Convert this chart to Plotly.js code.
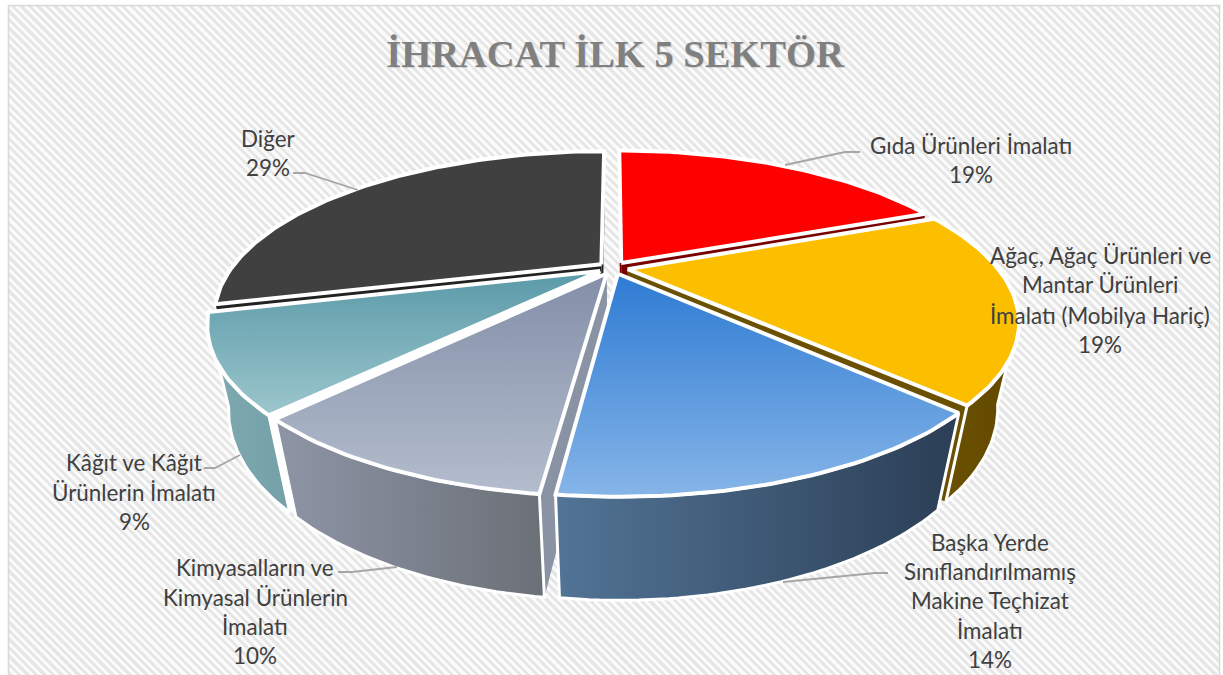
<!DOCTYPE html>
<html><head><meta charset="utf-8">
<script src="https://cdn.plot.ly/plotly-3.0.1.min.js"></script>
<style>
html,body{margin:0;padding:0;background:#fff;overflow:hidden}
#hatch{position:absolute;left:9px;top:6px;width:1210px;height:669px;
background:repeating-linear-gradient(45deg,#e6e6e6 0 3px,#fbfbfb 3px 6px);}
#chart{position:absolute;left:0;top:0;width:1223px;height:675px}
</style></head><body>
<div id="hatch"></div><div id="chart"></div>
<script>
// Data
const categories = [
  ["Gıda Ürünleri İmalatı"],
  ["Ağaç, Ağaç Ürünleri ve","Mantar Ürünleri","İmalatı (Mobilya Hariç)"],
  ["Başka Yerde","Sınıflandırılmamış","Makine Teçhizat","İmalatı"],
  ["Kimyasalların ve","Kimyasal Ürünlerin","İmalatı"],
  ["Kâğıt ve Kâğıt","Ürünlerin İmalatı"],
  ["Diğer"]
];
const values = [18.9,18.6,14.4,10.0,9.1,29.0];
const chartTitle = "İHRACAT İLK 5 SEKTÖR";

// Styles per slice: top gradient (near → far), wall gradient (left → right), cut face colour
const topColors  = [["#ff0000","#ff0000"],["#fcbf00","#fcbf00"],["#86b5e8","#2e7bd3"],["#b3bdcd","#838fa8"],["#9cc6cc","#5a9aa8"],["#404040","#404040"]];
const wallColors = [["#7f0000","#7f0000"],["#6a5000","#614900"],["#527496","#2b3e55"],["#8e95a6","#6b7077"],["#7faab0","#74a0a8"],["#262626","#262626"]];
const faceColors = ["#7a0000","#6a5000","#5d6b80","#8a93a3","#ffffff","#222222"];

// Label placement: centre x and the y of each text line
const labelX = [971,1100,990,255,134,268];
const labelY = [[145,174],[255,284,315,344],[542,571,600,630,659],[567,597,626,655],[462,492,521],[138,167]];
const leaders = [
  [[860,845,785],[152,152,165]],
  [[888,875,783],[573,573,582]],
  [[338,352,397],[572,572,567]],
  [[204,215,240],[468,468,455]],
  [[293,305,358],[173,173,190]]
];

// Perspective view of the pie
const view = {cx:613,cy:268,A:370,B:150,k:0.308,m:0.05,D:87,e:0.04,wallCut:-0.28};
function project(X,Y,Z){
  const den = 1+view.k*Y+view.m*Z;
  return [view.cx+view.A*X/den, view.cy+(-view.B*Y+view.D*Z)/den];
}
const total = values.reduce((a,b)=>a+b,0);
let acc = 0;
const slices = values.map((v,i)=>{
  const a0 = acc/total*2*Math.PI; acc += v;
  const a1 = acc/total*2*Math.PI; const mid=(a0+a1)/2;
  return {i,a0,a1,mid,ox:view.e*Math.sin(mid),oy:view.e*Math.cos(mid)};
});
function arc(s,Z,rev,visibleOnly){
  const n = Math.max(8,Math.ceil((s.a1-s.a0)/0.02)), out=[];
  for(let j=0;j<=n;j++){
    const t = s.a0+(s.a1-s.a0)*(rev?n-j:j)/n;
    if(visibleOnly && Math.cos(t)>view.wallCut) continue;
    out.push(project(s.ox+Math.sin(t),s.oy+Math.cos(t),Z));
  }
  return out;
}
function poly(pts,fill,grad,type,lw){
  const tr = {type:'scatter',mode:'lines',x:pts.map(p=>p[0]).concat(pts[0][0]),y:pts.map(p=>p[1]).concat(pts[0][1]),
    fill:'toself',line:{color:'#ffffff',width:lw},hoverinfo:'skip',showlegend:false,fillcolor:fill};
  if(grad) tr.fillgradient={type:type,colorscale:[[0,grad[0]],[1,grad[1]]]};
  return tr;
}
const traces=[];
const order = slices.slice().sort((a,b)=>Math.cos(b.mid)-Math.cos(a.mid));
for(const s of order){
  const c0 = project(s.ox,s.oy,0), c1 = project(s.ox,s.oy,1);
  const p0 = project(s.ox+Math.sin(s.a0),s.oy+Math.cos(s.a0),0), q0 = project(s.ox+Math.sin(s.a0),s.oy+Math.cos(s.a0),1);
  const p1 = project(s.ox+Math.sin(s.a1),s.oy+Math.cos(s.a1),0), q1 = project(s.ox+Math.sin(s.a1),s.oy+Math.cos(s.a1),1);
  traces.push(poly([c0,p0,q0,c1],faceColors[s.i],null,null,0));
  traces.push(poly([c0,p1,q1,c1],faceColors[s.i],null,null,0));
  const wallTop = arc(s,0,false,true);
  if(wallTop.length>1) traces.push(poly(wallTop.concat(arc(s,1,true,true)),wallColors[s.i][0],wallColors[s.i],'horizontal',3));
  traces.push(poly([c0].concat(arc(s,0,false,false)),topColors[s.i][0],topColors[s.i],'vertical',4));
}
for(const l of leaders){
  traces.push({type:'scatter',mode:'lines',x:l[0],y:l[1],line:{color:'#a6a6a6',width:1.8},hoverinfo:'skip',showlegend:false});
}
const annotations=[];
categories.forEach((lines,i)=>{
  lines.concat(Math.round(values[i])+"%").forEach((t,j)=>{
    annotations.push({x:labelX[i],y:labelY[i][j],xref:'x',yref:'y',text:t,showarrow:false,xanchor:'center',yanchor:'middle',
      font:{family:'Lato, sans-serif',size:22.4,color:'#404040'}});
  });
});
const layout={
  width:1223,height:675,margin:{l:0,r:0,t:0,b:0},
  paper_bgcolor:'rgba(0,0,0,0)',plot_bgcolor:'rgba(0,0,0,0)',showlegend:false,
  xaxis:{range:[0,1223],visible:false,fixedrange:true},
  yaxis:{range:[675,0],visible:false,fixedrange:true},
  title:{text:'<b>'+chartTitle+'</b>',x:615/1223,xanchor:'center',y:1-54/675,yanchor:'middle',
    font:{family:'Liberation Serif, serif',size:38.5,color:'#808080',shadow:'1px 1px 1px rgba(0,0,0,0.12)'}},
  annotations:annotations,
  shapes:[{type:'rect',xref:'x',yref:'y',x0:8.5,x1:1219.5,y0:5.5,y1:680,line:{color:'#d9d9d9',width:1.5},fillcolor:'rgba(0,0,0,0)'}]
};
Plotly.newPlot('chart',traces,layout,{displayModeBar:false,staticPlot:true});
</script></body></html>
